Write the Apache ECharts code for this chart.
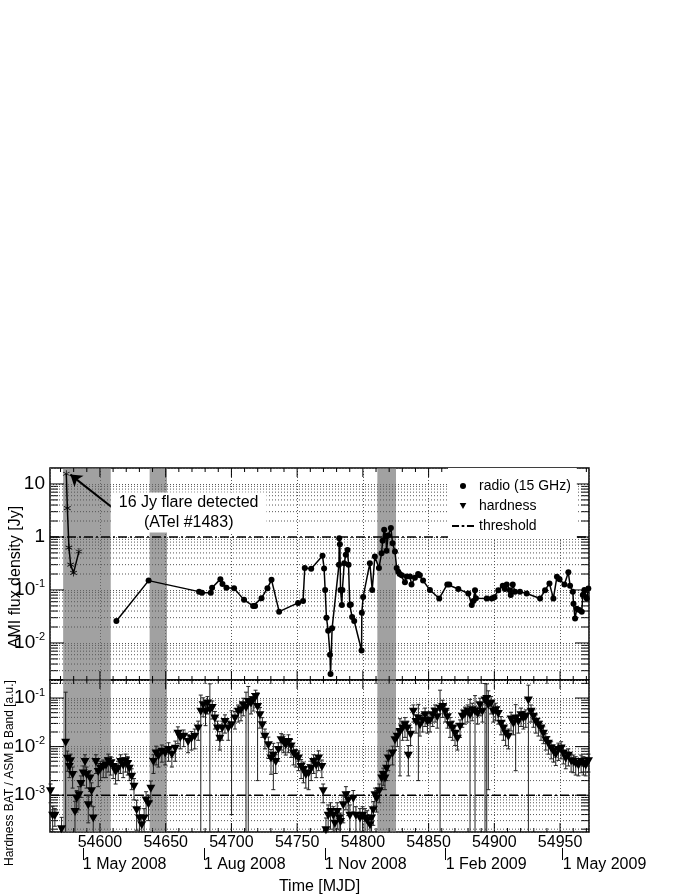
<!DOCTYPE html>
<html>
<head>
<meta charset="utf-8">
<title>AMI radio flux and hardness</title>
<script src="https://cdn.jsdelivr.net/npm/echarts@6/dist/echarts.min.js"></script>
<style>
  html, body { margin: 0; padding: 0; background: #fff; }
  #chart { width: 692px; height: 896px; }
</style>
</head>
<body>
<div id="chart"></div>
<script>
// axis ranges
const mjdMin = 54562
const mjdMax = 54972
const radioMin = 0.002
const radioMax = 20
const hardMin = 1.75e-4
const hardMax = 0.235
const radioThreshold = 1
const hardThreshold = 1e-3

// shaded intervals [MJD]
const bandStart = [54572, 54637.8, 54811]
const bandEnd = [54608.2, 54651, 54825.2]

// calendar marks under the MJD axis
const dateTicks = [54587, 54679, 54771, 54863, 54952]
const dateLabels = ['1 May 2008', '1 Aug 2008', '1 Nov 2008', '1 Feb 2009', '1 May 2009']

// early flare (16 Jy)
const flareMjd = [54574.4, 54575.2, 54576.4, 54577.7, 54579.9, 54584.0]
const flareJy = [15.6, 3.5, 0.63, 0.30, 0.21, 0.53]

// AMI 15 GHz radio
const radioMjd = [
  54612.5, 54637.0, 54675.4, 54677.6, 54684.3, 54685.3, 54691.6, 54693.2, 54696.2, 54702.0,
  54709.6, 54716.5, 54718.0, 54722.9, 54727.4, 54730.5, 54736.3, 54750.7, 54754.5, 54755.8,
  54760.7, 54769.3, 54770.5, 54771.3, 54772.3, 54773.6, 54775.0, 54775.4, 54776.6, 54781.8,
  54782.0, 54782.5, 54783.0, 54784.0, 54784.4, 54785.8, 54787.0, 54788.3, 54789.1, 54790.0,
  54790.8, 54791.8, 54793.4, 54799.0, 54799.2, 54800.2, 54805.3, 54807.1, 54809.1, 54812.2,
  54814.2, 54815.0, 54816.2, 54817.5, 54818.0, 54819.2, 54821.3, 54822.6, 54824.4, 54825.7,
  54826.9, 54828.0, 54829.5, 54832.0, 54833.3, 54835.8, 54837.0, 54839.6, 54842.0, 54843.3,
  54845.8, 54851.0, 54858.1, 54864.2, 54865.7, 54872.6, 54880.2, 54882.8, 54884.0, 54885.3,
  54886.0, 54894.2, 54898.0, 54900.0, 54903.0, 54906.4, 54908.0, 54909.4, 54911.8, 54912.5,
  54914.0, 54915.7, 54919.5, 54924.6, 54934.8, 54938.6, 54941.9, 54944.9, 54947.6, 54949.6,
  54953.3, 54956.3, 54957.6, 54959.7, 54960.2, 54961.4, 54962.7, 54964.7, 54966.5, 54967.3,
  54968.5, 54970.3, 54971.5
]
const radioJy = [
  0.026, 0.15, 0.093, 0.089, 0.089, 0.11, 0.16, 0.13, 0.11, 0.108,
  0.065, 0.05, 0.05, 0.07, 0.108, 0.155, 0.039, 0.057, 0.062, 0.26,
  0.25, 0.44, 0.255, 0.1, 0.03, 0.017, 0.006, 0.0026, 0.019, 0.30,
  0.95, 0.73, 0.10, 0.052, 0.10, 0.32, 0.46, 0.57, 0.30, 0.052,
  0.053, 0.031, 0.026, 0.0072, 0.037, 0.074, 0.32, 0.10, 0.43, 0.26,
  0.49, 0.85, 1.37, 1.02, 0.55, 1.07, 1.47, 0.76, 0.53, 0.26,
  0.22, 0.20, 0.19, 0.14, 0.18, 0.18, 0.127, 0.17, 0.20, 0.19,
  0.15, 0.10, 0.069, 0.127, 0.127, 0.104, 0.086, 0.052, 0.062, 0.099,
  0.07, 0.069, 0.069, 0.073, 0.099, 0.12, 0.104, 0.127, 0.099, 0.08,
  0.127, 0.093, 0.093, 0.086, 0.069, 0.099, 0.133, 0.069, 0.177, 0.16,
  0.127, 0.215, 0.12, 0.093, 0.055, 0.029, 0.044, 0.042, 0.039, 0.08,
  0.1, 0.069, 0.106
]

// hardness BAT / ASM B band, value and 1-sigma error
const hardMjd = [
  54562.4, 54564.0, 54565.7, 54570.8, 54573.9, 54575.2, 54576.7, 54577.7, 54579.2, 54581.0,
  54582.3, 54584.0, 54585.5, 54587.3, 54588.6, 54589.8, 54591.1, 54592.4, 54593.6, 54594.9,
  54596.9, 54598.7, 54600.5, 54602.5, 54604.6, 54606.3, 54608.1, 54610.1, 54611.9, 54613.9,
  54615.7, 54617.7, 54619.5, 54621.1, 54622.3, 54624.1, 54625.9, 54627.9, 54630.0, 54631.8,
  54633.6, 54635.1, 54636.9, 54638.7, 54640.7, 54642.7, 54644.5, 54647.1, 54649.6, 54652.2,
  54654.7, 54657.3, 54659.3, 54661.1, 54663.7, 54667.0, 54669.6, 54672.1, 54674.7, 54676.7,
  54678.5, 54680.3, 54681.8, 54683.6, 54685.4, 54687.4, 54689.4, 54691.2, 54693.0, 54695.1,
  54697.6, 54700.1, 54702.7, 54705.2, 54707.3, 54709.0, 54711.1, 54712.8, 54714.9, 54716.6,
  54718.4, 54719.9, 54721.7, 54723.5, 54725.5, 54728.1, 54730.1, 54731.9, 54733.7, 54735.7,
  54737.8, 54739.5, 54741.3, 54743.4, 54745.4, 54747.2, 54749.0, 54751.0, 54753.0, 54754.8,
  54756.6, 54758.7, 54760.7, 54762.5, 54764.5, 54766.3, 54768.8, 54769.8, 54771.9, 54773.6,
  54775.4, 54777.5, 54778.7, 54780.5, 54782.0, 54783.0, 54785.1, 54787.1, 54788.9, 54790.1,
  54792.7, 54794.7, 54797.8, 54799.8, 54801.6, 54803.3, 54805.4, 54806.6, 54807.9, 54809.2,
  54810.4, 54812.5, 54814.3, 54815.5, 54816.8, 54818.0, 54819.3, 54822.6, 54824.4, 54826.2,
  54828.2, 54830.2, 54832.0, 54833.8, 54834.6, 54836.3, 54838.4, 54840.4, 54842.2, 54843.4,
  54845.5, 54847.3, 54849.1, 54851.1, 54853.1, 54854.9, 54856.6, 54858.7, 54860.7, 54862.5,
  54864.3, 54866.3, 54868.3, 54870.1, 54871.9, 54873.9, 54875.6, 54877.7, 54879.7, 54881.5,
  54883.2, 54885.3, 54887.3, 54889.1, 54890.9, 54892.9, 54894.2, 54895.4, 54897.5, 54899.2,
  54901.0, 54903.0, 54905.1, 54906.9, 54908.6, 54910.7, 54912.7, 54914.5, 54916.2, 54918.3,
  54920.3, 54922.1, 54923.9, 54925.9, 54927.9, 54929.7, 54931.5, 54933.5, 54935.5, 54937.3,
  54939.1, 54941.1, 54943.2, 54945.0, 54946.7, 54948.7, 54950.8, 54952.5, 54954.3, 54956.3,
  54958.4, 54960.1, 54961.9, 54964.0, 54966.0, 54967.8, 54969.5, 54971.6
]
const hardVal = [
  1.2e-3, 3.8e-4, 3.8e-4, 2.0e-4, 1.2e-2, 5.6e-3, 3.8e-3, 5.0e-3, 2.6e-3, 4.5e-4,
  8.5e-4, 1.0e-3, 1.7e-3, 2.8e-3, 4.8e-3, 2.6e-3, 6.2e-4, 2.2e-3, 1.2e-3, 3.3e-4,
  4.8e-3, 3.0e-3, 3.5e-3, 3.8e-3, 4.1e-3, 5.0e-3, 4.4e-3, 3.8e-3, 3.0e-3, 3.5e-3,
  4.8e-3, 4.1e-3, 5.0e-3, 4.4e-3, 3.5e-3, 2.4e-3, 1.5e-3, 4.9e-4, 3.3e-4, 2.4e-4,
  3.3e-4, 7.8e-4, 6.5e-4, 1.36e-3, 4.8e-3, 7.2e-3, 6.3e-3, 7.8e-3, 7.2e-3, 8.5e-3,
  6.8e-3, 9.0e-3, 1.85e-2, 1.5e-2, 1.6e-2, 1.25e-2, 1.45e-2, 1.6e-2, 2.35e-2, 5.2e-2,
  7.1e-2, 5.2e-2, 7.7e-2, 5.6e-2, 6.2e-2, 3.8e-2, 2.35e-2, 1.45e-2, 2.35e-2, 3.2e-2,
  2.35e-2, 2.75e-2, 3.8e-2, 5.2e-2, 5.6e-2, 7.1e-2, 6.2e-2, 8.3e-2, 7.7e-2, 8.9e-2,
  0.105, 6.5e-2, 4.4e-2, 2.75e-2, 1.6e-2, 1.07e-2, 5.7e-3, 6.5e-3, 4.8e-3, 8.5e-3,
  1.35e-2, 1.25e-2, 1.07e-2, 1.25e-2, 1.0e-2, 7.2e-3, 6.3e-3, 5.7e-3, 3.8e-3, 3.3e-3,
  2.6e-3, 2.8e-3, 3.5e-3, 4.8e-3, 4.1e-3, 5.7e-3, 3.8e-3, 1.2e-3, 1.9e-4, 3.8e-4,
  4.5e-4, 3.8e-4, 2.6e-4, 4.5e-4, 3.3e-4, 2.8e-4, 6.2e-4, 1.0e-3, 7.8e-4, 3.8e-4,
  8.5e-4, 3.8e-4, 3.3e-4, 3.8e-4, 3.3e-4, 3.0e-4, 2.4e-4, 3.3e-4, 4.9e-4, 1.0e-3,
  8.5e-4, 1.2e-3, 2.2e-3, 2.6e-3, 2.2e-3, 3.5e-3, 5.7e-3, 7.2e-3, 1.35e-2, 1.6e-2,
  2.0e-2, 2.35e-2, 2.75e-2, 2.35e-2, 6.5e-3, 1.75e-2, 5.2e-2, 3.2e-2, 3.8e-2, 2.75e-2,
  3.4e-2, 4.4e-2, 3.2e-2, 3.4e-2, 4.4e-2, 5.2e-2, 4.0e-2, 6.0e-2, 6.5e-2, 5.2e-2,
  4.0e-2, 2.75e-2, 2.35e-2, 1.85e-2, 1.45e-2, 2.55e-2, 4.1e-2, 4.7e-2, 5.2e-2, 4.4e-2,
  5.6e-2, 5.2e-2, 4.7e-2, 7.1e-2, 5.2e-2, 8.9e-2, 9.5e-2, 7.1e-2, 7.7e-2, 5.2e-2,
  5.6e-2, 4.7e-2, 2.95e-2, 2.35e-2, 1.85e-2, 1.6e-2, 3.6e-2, 2.95e-2, 3.8e-2, 3.2e-2,
  4.4e-2, 3.8e-2, 4.1e-2, 8.9e-2, 5.2e-2, 4.1e-2, 3.2e-2, 2.75e-2, 2.35e-2, 1.85e-2,
  1.35e-2, 1.15e-2, 9.1e-3, 7.8e-3, 6.8e-3, 8.5e-3, 9.1e-3, 7.2e-3, 5.7e-3, 6.5e-3,
  5.0e-3, 4.8e-3, 4.4e-3, 4.1e-3, 4.8e-3, 4.4e-3, 4.1e-3, 5.0e-3
]
const hardErr = [
  5e-4, 2e-4, 1.5e-4, 1.5e-4, 0.12, 2.5e-3, 1.5e-3, 2e-3, 1.2e-3, 3e-4,
  4e-4, 5e-4, 8e-4, 1.2e-3, 2e-3, 1.2e-3, 3.5e-4, 1e-3, 6e-4, 2.5e-4,
  2e-3, 1.5e-3, 1.5e-3, 1.5e-3, 1.8e-3, 2e-3, 1.8e-3, 1.6e-3, 1.3e-3, 1.5e-3,
  2e-3, 1.8e-3, 2e-3, 1.8e-3, 1.5e-3, 1.1e-3, 7e-4, 3e-4, 2e-4, 1.5e-4,
  2e-4, 4e-4, 3.5e-4, 6e-4, 2e-3, 3e-3, 2.5e-3, 3e-3, 3e-3, 3.5e-3,
  3e-3, 4e-3, 7e-3, 6e-3, 6e-3, 5e-3, 6e-3, 7e-3, 1e-2, 0.063,
  3e-2, 2.5e-2, 3e-2, 0.14, 2.5e-2, 1.5e-2, 1e-2, 6e-3, 1e-2, 1.3e-2,
  1e-2, 0.0271, 1.5e-2, 2e-2, 2.2e-2, 2.8e-2, 0.07, 0.09, 3e-2, 3.5e-2,
  4e-2, 0.063, 2e-2, 1.2e-2, 7e-3, 5e-3, 3e-3, 5.2e-3, 2e-3, 3.5e-3,
  5e-3, 5e-3, 4e-3, 5e-3, 4e-3, 3e-3, 2.5e-3, 2.5e-3, 1.6e-3, 1.5e-3,
  1.2e-3, 1.5e-3, 1.5e-3, 2e-3, 1.8e-3, 2.5e-3, 1.5e-3, 5e-4, 1.5e-4, 2.5e-4,
  2.5e-4, 2e-4, 1.5e-4, 2.5e-4, 2e-4, 1.5e-4, 3.5e-4, 5e-4, 4e-4, 2.5e-4,
  4e-4, 2e-4, 2e-4, 2e-4, 2e-4, 1.8e-4, 1.5e-4, 2e-4, 2.5e-4, 4e-4,
  4e-4, 5e-4, 9e-4, 1e-3, 9e-4, 1.5e-3, 2.5e-3, 3e-3, 5e-3, 6e-3,
  1.75e-2, 1e-2, 1.2e-2, 1e-2, 4e-3, 7e-3, 2e-2, 1.3e-2, 3.6e-2, 1.1e-2,
  1.4e-2, 1.8e-2, 1.3e-2, 1.4e-2, 1.8e-2, 2e-2, 1.6e-2, 0.085, 2.5e-2, 2e-2,
  1.6e-2, 1.2e-2, 1e-2, 8e-3, 6e-3, 1e-2, 1.6e-2, 1.8e-2, 2e-2, 0.05,
  2.2e-2, 0.06, 1.8e-2, 2.8e-2, 2e-2, 0.11, 0.1, 0.0697, 3e-2, 2e-2,
  2.2e-2, 1.8e-2, 1.2e-2, 1e-2, 8e-3, 7e-3, 1.5e-2, 1.2e-2, 0.0348, 1.3e-2,
  1.8e-2, 1.5e-2, 1.6e-2, 0.095, 2e-2, 1.6e-2, 1.3e-2, 1.1e-2, 1e-2, 7e-3,
  5e-3, 4.5e-3, 3.5e-3, 3e-3, 2.7e-3, 3.3e-3, 3.5e-3, 2.8e-3, 2.2e-3, 2.5e-3,
  2e-3, 1.9e-3, 1.8e-3, 1.6e-3, 1.9e-3, 1.8e-3, 1.6e-3, 2e-3
]

const FONT = '"Liberation Sans", Arial, Helvetica, sans-serif'
const ASTERISK = 'path://M-0.5,-5L0.5,-5L0.5,5L-0.5,5Z M4.08,2.93L-4.58,-2.07L-4.08,-2.93L4.58,2.07Z M-4.08,2.93L4.58,-2.07L4.08,-2.93L-4.58,2.07Z'
const DOWN_TRIANGLE = 'path://M0,0L10,0L5,9Z'

const chart = echarts.init(document.getElementById('chart'))

function seg(x1, y1, x2, y2, style) {
  return {
    type: 'line',
    shape: { x1, y1, x2, y2 },
    style: Object.assign({ stroke: '#000', lineWidth: 1 }, style)
  }
}

// ticks on all four sides plus the dotted minor grid of a log panel
function frameRender(yMin, yMax) {
  return function (params, api) {
    const cs = params.coordSys
    const left = cs.x
    const right = cs.x + cs.width
    const top = cs.y
    const bottom = cs.y + cs.height
    const kids = []
    for (let d = Math.ceil(mjdMin / 10) * 10; d <= mjdMax; d += 10) {
      const px = api.coord([d, yMin])[0]
      const len = d % 50 === 0 ? 9 : 4
      kids.push(seg(px, top, px, top + len), seg(px, bottom, px, bottom - len))
    }
    const e0 = Math.floor(Math.log10(yMin))
    const e1 = Math.ceil(Math.log10(yMax))
    for (let e = e0; e <= e1; e++) {
      for (let k = 1; k <= 9; k++) {
        const v = k * Math.pow(10, e)
        if (v <= yMin * 1.0001 || v >= yMax) continue
        const py = api.coord([mjdMin, v])[1]
        const len = k === 1 ? 14 : 8
        kids.push(seg(left, py, left + len, py), seg(right, py, right - len, py))
        if (k > 1) kids.push(seg(left, py, right, py, { stroke: '#555', lineDash: [1, 2] }))
      }
    }
    return { type: 'group', children: kids }
  }
}

function errRender(params, api) {
  const x = api.value(0)
  const v = api.value(1)
  const e = api.value(2)
  const hi = Math.min(v + e, hardMax)
  const lo = v - e > hardMin ? v - e : hardMin
  const p1 = api.coord([x, hi])
  const p2 = api.coord([x, lo])
  const kids = [seg(p1[0], p1[1], p2[0], p2[1], { stroke: '#222' })]
  if (hi < hardMax) kids.push(seg(p1[0] - 2, p1[1], p1[0] + 2, p1[1], { stroke: '#222' }))
  if (lo > hardMin) kids.push(seg(p2[0] - 2, p2[1], p2[0] + 2, p2[1], { stroke: '#222' }))
  return { type: 'group', children: kids }
}

// "10", "1", or 10 with a raised exponent that sticks out past the mantissa column
function powLabel(v) {
  const lg = Math.log10(v)
  const e = Math.round(lg)
  if (Math.abs(lg - e) > 1e-6) return ''
  if (e === 0) return '{b|1}'
  if (e === 1) return '{b|10}'
  return '{b|10}{sup|' + e + '}'
}

const bandAreas = bandStart.map((s, i) => [{ xAxis: s }, { xAxis: bandEnd[i] }])

const xBase = {
  type: 'value',
  min: mjdMin,
  max: mjdMax,
  splitNumber: 8,
  axisLine: { show: false },
  axisTick: { show: false },
  splitLine: { show: true, lineStyle: { color: '#555', type: [1, 2], width: 1 } }
}

const yBase = {
  type: 'log',
  logBase: 10,
  axisLine: { show: false },
  axisTick: { show: false },
  splitLine: { show: true, lineStyle: { color: '#555', type: [1, 2], width: 1 } },
  axisLabel: {
    formatter: powLabel,
    margin: 5,
    color: '#000',
    fontFamily: FONT,
    showMinLabel: false,
    showMaxLabel: false,
    rich: {
      b: { fontSize: 19, lineHeight: 22, color: '#000', fontFamily: FONT },
      sup: { fontSize: 11, lineHeight: 11, verticalAlign: 'top', color: '#000', fontFamily: FONT }
    }
  }
}

const option = {
  animation: false,
  backgroundColor: '#fff',
  textStyle: { fontFamily: FONT },
  grid: [
    { left: 50, top: 468, width: 539, height: 212, show: true, borderColor: '#000', borderWidth: 1.5 },
    { left: 50, top: 680, width: 539, height: 152, show: true, borderColor: '#000', borderWidth: 1.5 }
  ],
  xAxis: [
    Object.assign({}, xBase, { gridIndex: 0, axisLabel: { show: false } }),
    Object.assign({}, xBase, {
      gridIndex: 1,
      axisLabel: {
        interval: 0,
        fontSize: 16,
        margin: 3,
        color: '#000',
        fontFamily: FONT,
        formatter: v => (v % 50 === 0 ? String(v) : '')
      }
    }),
    {
      type: 'value',
      gridIndex: 1,
      position: 'bottom',
      offset: 16,
      min: mjdMin,
      max: mjdMax,
      axisLine: { show: false },
      splitLine: { show: false },
      axisTick: { show: true, customValues: dateTicks, length: 12, lineStyle: { color: '#000', width: 1 } },
      axisLabel: {
        customValues: dateTicks,
        formatter: v => dateLabels[dateTicks.indexOf(v)] || '',
        align: 'left',
        margin: 9,
        fontSize: 16,
        color: '#000',
        fontFamily: FONT
      },
      name: 'Time [MJD]',
      nameLocation: 'middle',
      nameGap: 31,
      nameTextStyle: { fontSize: 16, color: '#000', fontFamily: FONT }
    }
  ],
  yAxis: [
    Object.assign({}, yBase, { gridIndex: 0, min: radioMin, max: radioMax }),
    Object.assign({}, yBase, { gridIndex: 1, min: hardMin, max: hardMax })
  ],
  legend: {
    orient: 'vertical',
    left: 448,
    top: 468,
    z: 20,
    padding: [11, 6, 6, 4],
    itemGap: 6,
    itemWidth: 22,
    itemHeight: 6,
    backgroundColor: '#fff',
    selectedMode: false,
    textStyle: { fontSize: 14, color: '#000', fontFamily: FONT },
    data: [
      { name: 'radio (15 GHz)', icon: 'circle' },
      { name: 'hardness', icon: DOWN_TRIANGLE },
      { name: 'threshold', icon: 'path://M0,0h8v2h-8zM11,0h3v2h-3zM17,0h8v2h-8z' }
    ]
  },
  graphic: [
    {
      type: 'text', x: 16, y: 577, rotation: Math.PI / 2,
      style: { text: 'AMI flux density [Jy]', font: '16px ' + FONT, fill: '#000', align: 'center', verticalAlign: 'middle' }
    },
    {
      type: 'text', x: 10, y: 773, rotation: Math.PI / 2,
      style: { text: 'Hardness BAT / ASM B Band [a.u.]', font: '12px ' + FONT, fill: '#000', align: 'center', verticalAlign: 'middle' }
    }
  ],
  series: [
    {
      type: 'custom', name: 'frame-top', xAxisIndex: 0, yAxisIndex: 0, z: 1, silent: true,
      renderItem: frameRender(radioMin, radioMax), data: [[mjdMin, radioMin]], clip: false
    },
    {
      type: 'custom', name: 'frame-bottom', xAxisIndex: 1, yAxisIndex: 1, z: 1, silent: true,
      renderItem: frameRender(hardMin, hardMax), data: [[mjdMin, hardMin]], clip: false
    },
    {
      type: 'line', name: 'bands-top', xAxisIndex: 0, yAxisIndex: 0, z: 2, data: [], silent: true,
      markArea: { silent: true, itemStyle: { color: 'rgba(110,110,110,0.65)' }, data: bandAreas }
    },
    {
      type: 'line', name: 'bands-bottom', xAxisIndex: 1, yAxisIndex: 1, z: 2, data: [], silent: true,
      markArea: { silent: true, itemStyle: { color: 'rgba(110,110,110,0.65)' }, data: bandAreas }
    },
    {
      type: 'line', name: 'threshold', xAxisIndex: 0, yAxisIndex: 0, z: 3, symbol: 'none',
      color: '#000',
      lineStyle: { color: '#000', width: 1.5, type: [9, 3, 2, 3] },
      data: [[mjdMin, radioThreshold], [mjdMax, radioThreshold]]
    },
    {
      type: 'line', name: 'threshold', xAxisIndex: 1, yAxisIndex: 1, z: 3, symbol: 'none',
      color: '#000',
      lineStyle: { color: '#000', width: 1.5, type: [9, 3, 2, 3] },
      data: [[mjdMin, hardThreshold], [mjdMax, hardThreshold]]
    },
    {
      type: 'custom', name: 'hardness-err', xAxisIndex: 1, yAxisIndex: 1, z: 4, silent: true,
      renderItem: errRender,
      encode: { x: 0, y: 1 },
      data: hardMjd.map((m, i) => [m, hardVal[i], hardErr[i]])
    },
    {
      type: 'scatter', name: 'hardness', xAxisIndex: 1, yAxisIndex: 1, z: 5,
      symbol: DOWN_TRIANGLE, symbolSize: [9, 8],
      color: '#000',
      itemStyle: { color: '#000', opacity: 1 },
      data: hardMjd.map((m, i) => [m, hardVal[i]])
    },
    {
      type: 'line', name: 'flare', xAxisIndex: 0, yAxisIndex: 0, z: 6,
      symbol: ASTERISK, symbolSize: 7,
      itemStyle: { color: '#000' },
      lineStyle: { color: '#000', width: 1.5 },
      data: flareMjd.map((m, i) => [m, flareJy[i]]),
      markLine: {
        silent: true,
        symbol: ['none', 'arrow'],
        symbolSize: 11,
        label: { show: false },
        lineStyle: { color: '#000', width: 2, type: 'solid' },
        data: [[{ coord: [54612, 3.2] }, { coord: [54577.5, 15] }]]
      },
      markPoint: {
        silent: true,
        symbol: 'circle',
        symbolSize: 1,
        itemStyle: { color: 'rgba(0,0,0,0)' },
        label: {
          show: true,
          position: 'inside',
          formatter: '16 Jy flare detected\n(ATel #1483)',
          backgroundColor: '#fff',
          padding: [0, 8],
          fontSize: 16,
          lineHeight: 20,
          color: '#000',
          fontFamily: FONT
        },
        data: [{ coord: [54667.5, 2.9] }]
      }
    },
    {
      type: 'line', name: 'radio (15 GHz)', xAxisIndex: 0, yAxisIndex: 0, z: 6,
      symbol: 'circle', symbolSize: 6,
      color: '#000',
      itemStyle: { color: '#000' },
      lineStyle: { color: '#000', width: 1.5 },
      data: radioMjd.map((m, i) => [m, radioJy[i]])
    }
  ]
}

chart.setOption(option)
</script>
</body>
</html>
